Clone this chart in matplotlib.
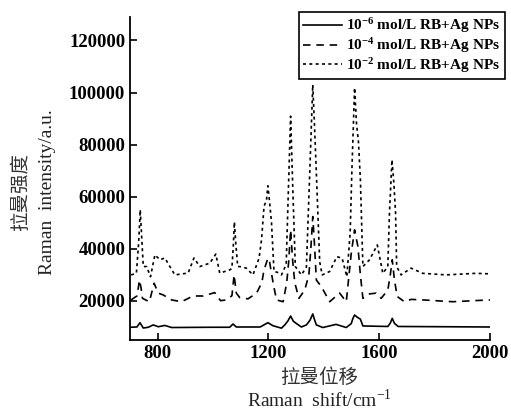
import matplotlib
matplotlib.use("Agg")
import matplotlib.pyplot as plt

plt.rcParams['font.family'] = ['Liberation Serif', 'Noto Sans CJK SC']
plt.rcParams['mathtext.fontset'] = 'custom'
plt.rcParams['mathtext.rm'] = 'Liberation Serif'
plt.rcParams['mathtext.bf'] = 'Liberation Serif:bold'

# 10^-2 mol/L (dotted)
x_high = [704, 723, 731, 737, 742, 748, 760, 774, 790, 808, 826, 844, 862, 910,
          931, 952, 988, 1010, 1024, 1060, 1068, 1073, 1077, 1082, 1089, 1096,
          1120, 1144, 1166, 1175, 1184, 1193, 1198, 1204, 1211, 1220, 1232, 1247,
          1264, 1272, 1280, 1288, 1297, 1319, 1337, 1349, 1360, 1366, 1373, 1385,
          1394, 1421, 1447, 1466, 1483, 1495, 1501, 1511, 1518, 1525, 1532, 1541,
          1565, 1593, 1613, 1631, 1637, 1646, 1653, 1659, 1663, 1679, 1715, 1757,
          1841, 1949, 2000]
y_high = [30000, 30600, 42000, 55000, 45000, 33200, 33200, 29300, 37700, 35800,
          36500, 33200, 30000, 30700, 36500, 33200, 34500, 38000, 30700, 31900,
          32500, 41000, 50300, 42000, 33200, 33200, 32600, 30000, 36400, 43500,
          56300, 58800, 64200, 58000, 50000, 31300, 31000, 30000, 34000, 62700,
          90900, 62700, 33200, 30000, 33000, 69000, 103000, 88000, 69000, 35000,
          30000, 31300, 37000, 36400, 29300, 46000, 69200, 101800, 88000, 81000,
          66500, 33200, 35800, 41500, 30600, 33200, 53800, 74200, 65000, 53800,
          33200, 30000, 32600, 30600, 30000, 30600, 30400]

# 10^-4 mol/L (dashed)
x_mid = [704, 726, 734, 740, 745, 770, 787, 802, 820, 850, 886, 928, 964, 1006,
         1027, 1048, 1068, 1076, 1084, 1096, 1126, 1157, 1176, 1184, 1198, 1204,
         1217, 1229, 1253, 1266, 1273, 1280, 1287, 1295, 1310, 1331, 1346, 1353,
         1360, 1366, 1373, 1391, 1421, 1457, 1481, 1499, 1511, 1523, 1532, 1541,
         1565, 1589, 1607, 1631, 1640, 1647, 1655, 1665, 1691, 1715, 1757, 1865,
         2000]
y_mid = [20400, 22000, 28000, 25000, 21000, 19700, 26800, 23000, 22300, 20400,
         19700, 21900, 21900, 23200, 20100, 20400, 22000, 30000, 23000, 21300,
         20800, 23000, 27000, 31900, 36400, 35000, 26800, 20400, 19700, 27000,
         35000, 47300, 36000, 27000, 21000, 24200, 30000, 40000, 52400, 42000,
         28000, 25500, 19700, 23000, 19700, 38300, 47300, 40900, 30000, 21000,
         22700, 23000, 21000, 24200, 30000, 35800, 28000, 21700, 19700, 20600,
         20400, 19700, 20400]

# 10^-6 mol/L (solid)
x_low = [700, 725, 736, 748, 766, 784, 802, 826, 850, 1000, 1060, 1072, 1084,
         1170, 1198, 1216, 1247, 1259, 1270, 1280, 1290, 1300, 1319, 1337, 1350,
         1360, 1368, 1373, 1396, 1444, 1481, 1499, 1505, 1511, 1520, 1532, 1541,
         1631, 1640, 1647, 1655, 1668, 2000]
y_low = [9900, 10000, 11650, 9600, 9900, 10800, 10100, 10600, 9800, 9900, 9900,
         11150, 10000, 10000, 11650, 10500, 9550, 10800, 12300, 14200, 12200, 11400,
         10000, 10800, 12600, 15000, 12300, 10800, 9800, 11000, 9800, 11300, 13300,
         14600, 13800, 13000, 10400, 10200, 11500, 13300, 11400, 10200, 10000]

labels = [r'$\mathbf{10^{-6}}$ mol/L RB+Ag NPs',
          r'$\mathbf{10^{-4}}$ mol/L RB+Ag NPs',
          r'$\mathbf{10^{-2}}$ mol/L RB+Ag NPs']
x_ticks = [800, 1200, 1600, 2000]
y_ticks = [20000, 40000, 60000, 80000, 100000, 120000]

fig = plt.figure(figsize=(5.11, 4.11), dpi=100)
ax = fig.add_axes([0.2544, 0.1727, 0.7045, 0.786])

ax.plot(x_low, y_low, color='black', lw=1.2, linestyle='-', label=labels[0])
ax.plot(x_mid, y_mid, color='black', lw=1.2, linestyle=(0, (4.5, 3.5)), label=labels[1])
ax.plot(x_high, y_high, color='black', lw=1.2, linestyle=(0, (1.8, 2)), label=labels[2])

ax.set_xlim(700, 2000)
ax.set_ylim(5000, 129000)
ax.set_xticks(x_ticks)
ax.set_yticks(y_ticks)
ax.tick_params(direction='in', length=5, width=1.2, labelsize=13.5)
for lab in ax.get_xticklabels() + ax.get_yticklabels():
    lab.set_fontweight('bold')
ax.spines['top'].set_visible(False)
ax.spines['right'].set_visible(False)
ax.spines['left'].set_linewidth(1.3)
ax.spines['bottom'].set_linewidth(1.3)

leg = fig.legend(loc='upper right', bbox_to_anchor=(0.988, 0.971), fancybox=False,
                 edgecolor='black', framealpha=1, handlelength=2.5,
                 prop={'weight': 'bold', 'size': 11}, borderpad=0.3,
                 labelspacing=0.05, handletextpad=0.3, borderaxespad=0)
leg.get_frame().set_linewidth(1.2)

fig.text(0.04, 0.533, '拉曼强度', rotation=90, ha='center', va='center',
         fontsize=14, family=['Noto Sans CJK SC'], color='#333333')
fig.text(0.092, 0.533, 'Raman  intensity/a.u.', rotation=90, ha='center',
         va='center', fontsize=14, color='#222222')
fig.text(0.625, 0.082, '拉曼位移', ha='center', va='center', fontsize=14,
         family=['Noto Sans CJK SC'], color='#333333')
fig.text(0.625, 0.027, r'Raman  shift/cm$^{-1}$', ha='center', va='center',
         fontsize=14, color='#222222')

fig.savefig('out.png', dpi=100)
